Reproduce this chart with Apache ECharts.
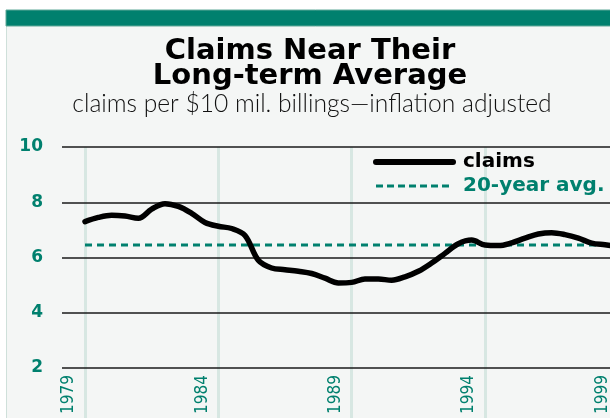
<!DOCTYPE html>
<html><head><meta charset="utf-8">
<script src="https://cdn.jsdelivr.net/npm/echarts@6/dist/echarts.min.js"></script>
<style>html,body{margin:0;padding:0;background:#fff;overflow:hidden;width:610px;height:418px}#c{width:624px;height:418px}</style>
</head><body><div id="c"></div>
<script>
// ---- data ----
const years = [1979, 1979.5, 1980, 1980.5, 1981, 1981.5, 1982, 1982.5, 1983, 1983.5,
               1984, 1984.5, 1985, 1985.5, 1986, 1986.5, 1987, 1987.5, 1988, 1988.5,
               1989, 1989.5, 1990, 1990.5, 1991, 1991.5, 1992, 1992.5, 1993, 1993.5,
               1994, 1994.5, 1995, 1995.5, 1996, 1996.5, 1997, 1997.5, 1998, 1998.5, 1999];
const claims = [7.30, 7.45, 7.53, 7.50, 7.42, 7.75, 7.95, 7.85, 7.60, 7.27,
                7.13, 7.05, 6.80, 5.90, 5.62, 5.56, 5.50, 5.42, 5.25, 5.08,
                5.10, 5.22, 5.22, 5.18, 5.30, 5.50, 5.80, 6.15, 6.50, 6.63,
                6.45, 6.43, 6.53, 6.70, 6.85, 6.90, 6.83, 6.70, 6.52, 6.46, 6.40];
const avgYears = [1979, 1999];
const avgValue = 6.45;
const tickYears = [1979, 1984, 1989, 1994, 1999];
const yTicks = [2, 4, 6, 8, 10];
const seriesNames = ['claims', '20-year avg.'];
const titleText = 'Claims Near Their\nLong-term Average';
const subtitleText = 'claims per $10 mil. billings\u2014inflation adjusted';

const TEAL = '#00806e';
const xMin = 1978.1375, xMax = 1998.6875, xMaxGuide = 1999;
const pxPerYear = 548 / (xMax - xMin);

const chart = echarts.init(document.getElementById('c'), null, {renderer: 'canvas'});
chart.setOption({
  backgroundColor: '#ffffff',
  animation: false,
  graphic: [
    {type: 'rect', z: -10, shape: {x: 6.5, y: 10.5, width: 630, height: 420},
     style: {fill: '#f4f6f5', stroke: '#cfe0da', lineWidth: 1}},
    {type: 'rect', z: -9, shape: {x: 6, y: 10, width: 630, height: 16},
     style: {fill: TEAL, stroke: '#5fa898', lineWidth: 1}}
  ],
  title: [
    {text: titleText, left: 305, textAlign: 'center', top: 34,
     textStyle: {fontFamily: 'DejaVu Sans', fontWeight: 'bold', fontSize: 29, lineHeight: 25, color: '#000'}},
    {text: subtitleText, left: 307, textAlign: 'center', top: 87,
     textStyle: {fontFamily: 'Lato', fontWeight: 300, fontSize: 24.6, color: '#111'}}
  ],
  legend: {
    orient: 'vertical', left: 373, top: 152, itemWidth: 77, itemHeight: 14, itemGap: 4, padding: 0,
    itemStyle: {opacity: 0},
    data: [
      {name: seriesNames[0], textStyle: {color: '#000'},
       lineStyle: {width: 6, color: '#000', cap: 'round'}},
      {name: seriesNames[1], textStyle: {color: TEAL},
       lineStyle: {width: 3, color: TEAL, type: [7, 4]}}
    ],
    textStyle: {fontFamily: 'DejaVu Sans', fontWeight: 'bold', fontSize: 20, padding: [0, 0, 0, 5]}
  },
  grid: [
    {left: 62, width: 548, top: 147, bottom: 50},
    {left: 62, width: pxPerYear * (xMaxGuide - xMin), top: 147, bottom: 0}
  ],
  xAxis: [
    {type: 'value', gridIndex: 0, min: xMin, max: xMax, show: false},
    {type: 'value', gridIndex: 1, min: xMin, max: xMaxGuide, z: 0,
     axisLine: {show: false},
     axisTick: {show: false, customValues: tickYears},
     splitLine: {show: true, lineStyle: {color: '#d7e7e2', width: 3}},
     axisLabel: {show: true, inside: true, rotate: 90, margin: 4, customValues: tickYears,
       formatter: v => String(Math.round(v)), color: TEAL,
       fontFamily: "'Liberation Sans Narrow', 'DejaVu Sans Condensed', sans-serif",
       fontSize: 17, verticalAlign: 'bottom', lineHeight: 32}}
  ],
  yAxis: [
    {type: 'value', gridIndex: 0, min: 2, max: 10, interval: 2, z: 1,
     axisLine: {show: false}, axisTick: {show: false},
     splitLine: {show: true, lineStyle: {color: '#1a1a1a', width: 1.5}},
     axisLabel: {margin: 19, color: TEAL, fontFamily: 'DejaVu Sans', fontWeight: 'bold', fontSize: 17,
       padding: [5, 0, 0, 0], customValues: yTicks}},
    {type: 'value', gridIndex: 1, min: 0, max: 1, show: false}
  ],
  series: [
    {name: seriesNames[0], type: 'line', xAxisIndex: 0, yAxisIndex: 0, z: 5,
     data: years.map((y, i) => [y, claims[i]]), smooth: 0.35, symbol: 'none',
     lineStyle: {color: '#000', width: 5.5, cap: 'round', join: 'round'},
     itemStyle: {color: '#000'}},
    {name: seriesNames[1], type: 'line', xAxisIndex: 0, yAxisIndex: 0, z: 4,
     data: avgYears.map(y => [y, avgValue]), symbol: 'none',
     lineStyle: {color: TEAL, width: 3, type: [7, 5]},
     itemStyle: {color: TEAL}}
  ]
});
</script></body></html>
